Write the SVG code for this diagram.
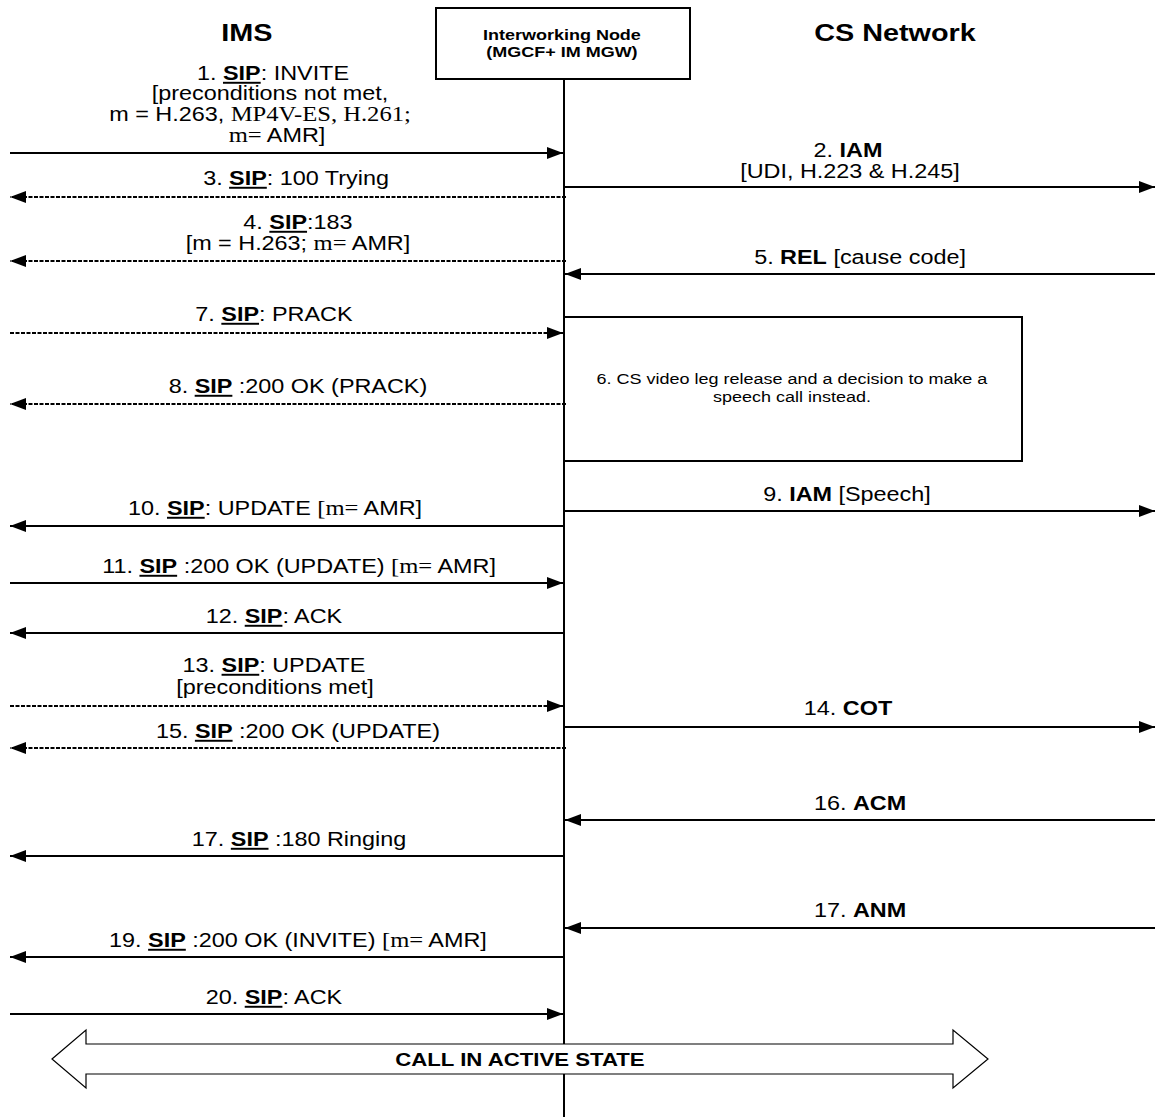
<svg xmlns="http://www.w3.org/2000/svg" width="1155" height="1117" viewBox="0 0 1155 1117">
<style>
text{font-family:"Liberation Sans",Arial,sans-serif;fill:#000;text-anchor:middle}
.l{font-size:19.5px}
.b{font-weight:bold}
.u{font-weight:bold;text-decoration:underline}
.s{font-family:"Liberation Serif","Times New Roman",serif;font-size:20.5px}
.title{font-size:24px;font-weight:bold}
.node{font-size:15px;font-weight:bold}
.box{font-size:15px}
.ln{stroke:#000;stroke-width:2;fill:none}
.d{stroke-dasharray:4 1.5}
.r{marker-end:url(#ah)}
</style>
<defs>
<marker id="ah" markerUnits="userSpaceOnUse" markerWidth="16" markerHeight="12" refX="16" refY="6" orient="auto">
<path d="M0,0 L16,6 L0,12 z" fill="#000"/>
</marker>
</defs>
<rect width="1155" height="1117" fill="#fff"/>

<g id="ims">
<g transform="scale(1.2,1)"><text class="title" x="205.8" y="41">IMS</text></g>
</g>
<g id="cs-network">
<g transform="scale(1.2,1)"><text class="title" x="745.8" y="41">CS Network</text></g>
</g>
<g id="interworking-node">
<rect x="436" y="8" width="254" height="71" fill="#fff" stroke="#000" stroke-width="2"/>
<line x1="564" y1="79" x2="564" y2="1117" stroke="#000" stroke-width="2"/>
<g transform="scale(1.2,1)">
<text class="node" x="468.3" y="40">Interworking Node</text>
<text class="node" x="468.3" y="57">(MGCF+ IM MGW)</text>
</g>
</g>

<g id="decision">
<rect x="564" y="317" width="458" height="144" fill="none" stroke="#000" stroke-width="2"/>
<g transform="scale(1.2,1)">
<text class="box" x="660" y="384">6. CS video leg release and a decision to make a</text>
<text class="box" x="660" y="402">speech call instead.</text>
</g>
</g>

<g id="connectors">
<line class="ln r" x1="10" y1="153" x2="563" y2="153"/>
<line class="ln r" x1="564" y1="187" x2="1155" y2="187"/>
<line class="ln d r" x1="566" y1="197" x2="10" y2="197"/>
<line class="ln d r" x1="566" y1="261" x2="10" y2="261"/>
<line class="ln r" x1="1155" y1="274" x2="565" y2="274"/>
<line class="ln d r" x1="10" y1="333" x2="563" y2="333"/>
<line class="ln d r" x1="566" y1="404" x2="10" y2="404"/>
<line class="ln r" x1="564" y1="511" x2="1155" y2="511"/>
<line class="ln r" x1="564" y1="526" x2="10" y2="526"/>
<line class="ln r" x1="10" y1="583" x2="563" y2="583"/>
<line class="ln r" x1="564" y1="633" x2="10" y2="633"/>
<line class="ln d r" x1="10" y1="706" x2="563" y2="706"/>
<line class="ln r" x1="564" y1="727" x2="1155" y2="727"/>
<line class="ln d r" x1="566" y1="748" x2="10" y2="748"/>
<line class="ln r" x1="1155" y1="820" x2="565" y2="820"/>
<line class="ln r" x1="564" y1="856" x2="10" y2="856"/>
<line class="ln r" x1="1155" y1="928" x2="565" y2="928"/>
<line class="ln r" x1="564" y1="957" x2="10" y2="957"/>
<line class="ln r" x1="10" y1="1014" x2="563" y2="1014"/>
<g transform="scale(1.2,1)">
<text class="l" x="227.5" y="80">1. <tspan class="u">SIP</tspan>: INVITE</text>
<text class="l" x="225" y="100">[preconditions not met,</text>
<text class="l" x="216.7" y="121">m = H.263, <tspan class="s">MP4V-ES, H.261;</tspan></text>
<text class="l" x="230.8" y="142"><tspan class="s">m=</tspan> AMR]</text>
<text class="l" x="706.7" y="157">2. <tspan class="b">IAM</tspan></text>
<text class="l" x="708.3" y="178">[UDI, H.223 &amp; H.245]</text>
<text class="l" x="246.7" y="185">3. <tspan class="u">SIP</tspan>: 100 Trying</text>
<text class="l" x="248.3" y="229">4. <tspan class="u">SIP</tspan>:183</text>
<text class="l" x="248.3" y="250">[m = H.263; <tspan class="s">m=</tspan> AMR]</text>
<text class="l" x="716.7" y="264">5. <tspan class="b">REL</tspan> [cause code]</text>
<text class="l" x="228.3" y="321">7. <tspan class="u">SIP</tspan>: PRACK</text>
<text class="l" x="248.3" y="393">8. <tspan class="u">SIP</tspan> :200 OK (PRACK)</text>
<text class="l" x="705.8" y="501">9. <tspan class="b">IAM</tspan> [Speech]</text>
<text class="l" x="229.2" y="515">10. <tspan class="u">SIP</tspan>: UPDATE <tspan class="s">[m=</tspan> AMR]</text>
<text class="l" x="249.2" y="573">11. <tspan class="u">SIP</tspan> :200 OK (UPDATE) <tspan class="s">[m=</tspan> AMR]</text>
<text class="l" x="228.3" y="623">12. <tspan class="u">SIP</tspan>: ACK</text>
<text class="l" x="228.3" y="672">13. <tspan class="u">SIP</tspan>: UPDATE</text>
<text class="l" x="229.2" y="694">[preconditions met]</text>
<text class="l" x="706.7" y="715">14. <tspan class="b">COT</tspan></text>
<text class="l" x="248.3" y="738">15. <tspan class="u">SIP</tspan> :200 OK (UPDATE)</text>
<text class="l" x="716.7" y="810">16. <tspan class="b">ACM</tspan></text>
<text class="l" x="249.2" y="846">17. <tspan class="u">SIP</tspan> :180 Ringing</text>
<text class="l" x="716.7" y="917">17. <tspan class="b">ANM</tspan></text>
<text class="l" x="248.3" y="947">19. <tspan class="u">SIP</tspan> :200 OK (INVITE) <tspan class="s">[m=</tspan> AMR]</text>
<text class="l" x="228.3" y="1004">20. <tspan class="u">SIP</tspan>: ACK</text>
</g>
</g>

<g id="call-active-state">
<path d="M52,1059 L86,1030 L86,1044 L953,1044 L953,1030 L988,1059 L953,1088 L953,1074 L86,1074 L86,1088 Z" fill="#fff" stroke="#000" stroke-width="1.2"/>
<g transform="scale(1.2,1)">
<text class="b" x="433.3" y="1066" style="font-size:18.5px">CALL IN ACTIVE STATE</text>
</g>
</g>
</svg>
